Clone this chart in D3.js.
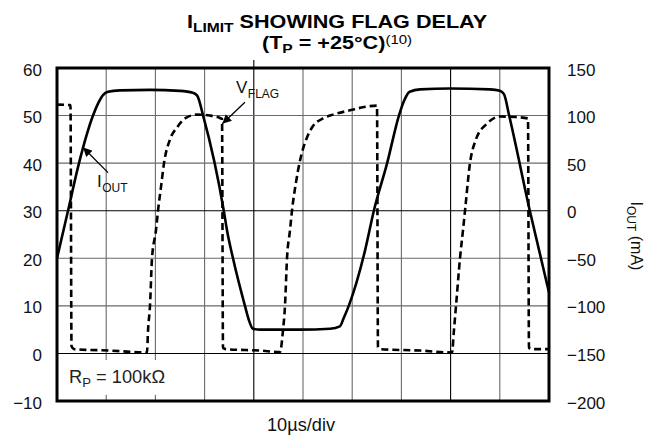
<!DOCTYPE html>
<html><head><meta charset="utf-8">
<script src="https://cdn.jsdelivr.net/npm/d3@7"></script>
<style>body{margin:0;background:#fff}svg{display:block}text{font-family:"Liberation Sans",Arial,sans-serif}</style>
</head><body>
<svg id="c" width="655" height="439"></svg>
<script>
// ---- data ----
const leftTicks = [-10, 0, 10, 20, 30, 40, 50, 60];
const rightTicks = [-200, -150, -100, -50, 0, 50, 100, 150];
const divisions = [0,1,2,3,4,5,6,7,8,9,10];
// I_OUT (right axis, mA) vs time in divisions (10us/div)
const ioutT = [0,0.224,0.447,0.732,0.833,0.935,1.037,1.28,1.89,2.5,2.76,2.85,2.97,3.39,3.455,3.577,3.82,3.90,3.98,4.13,4.94,5.55,5.75,5.83,5.93,6.26,6.44,6.71,6.95,7.05,7.17,7.38,7.99,8.80,9.0,9.085,9.19,9.61,10];
const ioutMA = [-50,0,50,100,112.5,121.5,125,126.5,127,126,124,121,100,0,-20.5,-50,-100,-115,-124,-125,-125,-124,-121.5,-112.5,-100,-42,0,50,100,115,125,127.5,128.5,127.5,126,122.5,100,0,-86];
// V_FLAG (left axis) vs time in divisions
const vflagT = [0,0.274,0.295,0.346,1.077,1.829,1.850,1.890,1.931,2.012,2.053,2.114,2.175,2.297,2.439,2.602,2.846,3.110,3.313,3.354,3.374,3.435,4.126,4.533,4.593,4.634,4.675,4.736,4.776,4.858,4.939,5.000,5.081,5.203,5.407,5.610,5.955,6.301,6.504,6.524,6.585,7.378,8.028,8.069,8.110,8.191,8.252,8.293,8.394,8.516,8.740,9.004,9.309,9.573,9.593,9.654,10];
const vflagV = [52.3,52.2,1.5,0.9,0.6,0.2,4.8,10,20,25.9,30,35,40,45,47.5,49.4,50.2,50.0,49.5,49.3,1.2,0.9,0.6,0.3,4.8,10,20,25.9,30,36,40.5,43,45.4,47.8,49.4,50.2,51.1,51.9,52.1,1.3,0.9,0.6,0.2,5,10,20,25.9,30,40,45,48.3,49.8,49.7,49.4,1.2,0.9,0.9];
const darkV = [0, 30];      // darker horizontal grid lines (left units)
const darkDiv = [4, 8];     // darker vertical grid lines

// ---- layout ----
const svg = d3.select("#c");
const L = 57, R = 549, T = 68, B = 401;
const x = d3.scaleLinear().domain([0, 10]).range([L, R]);
const yL = d3.scaleLinear().domain([-10, 60]).range([B, T]);
const yR = d3.scaleLinear().domain([-200, 150]).range([B, T]);

// grid
const g = svg.append("g");
g.selectAll(".vg").data(divisions.slice(1, -1)).join("line")
  .attr("x1", d => x(d)).attr("x2", d => x(d)).attr("y1", T).attr("y2", B)
  .attr("stroke", d => darkDiv.includes(d) ? "#000" : "#6a6a6a").attr("stroke-width", 1.1);
g.selectAll(".hg").data(leftTicks.slice(1, -1)).join("line")
  .attr("x1", L).attr("x2", R).attr("y1", d => yL(d)).attr("y2", d => yL(d))
  .attr("stroke", d => darkV.includes(d) ? "#000" : "#6a6a6a").attr("stroke-width", 1.1);
// small trigger tick above frame
g.append("line").attr("x1", x(4)).attr("x2", x(4)).attr("y1", T - 8).attr("y2", T).attr("stroke", "#000").attr("stroke-width", 1.1);

// R_P label box (covers grid)
const rpg = svg.append("g");
rpg.append("rect").attr("x", L + 1).attr("y", yL(-1.4)).attr("width", 122).attr("height", yL(-8.7) - yL(-1.4)).attr("fill", "#fff");
const rp = rpg.append("text").attr("x", x(0.245)).attr("y", yL(-6.2)).attr("font-size", 18).attr("fill", "#222")
  .attr("textLength", 96).attr("lengthAdjust", "spacingAndGlyphs");
rp.append("tspan").text("R");
rp.append("tspan").attr("font-size", 13).attr("dy", 4).text("P");
rp.append("tspan").attr("dy", -4).text(" = 100kΩ");

// series
const lineI = d3.line().x(d => x(d[0])).y(d => yR(d[1])).curve(d3.curveMonotoneX);
const lineV = d3.line().x(d => x(d[0])).y(d => yL(d[1])).curve(d3.curveMonotoneX);
svg.append("path").datum(d3.zip(vflagT, vflagV)).attr("d", lineV)
  .attr("fill", "none").attr("stroke", "#000").attr("stroke-width", 2.6).attr("stroke-dasharray", "7,4");
svg.append("path").datum(d3.zip(ioutT, ioutMA)).attr("d", lineI)
  .attr("fill", "none").attr("stroke", "#000").attr("stroke-width", 2.6);

// frame
svg.append("rect").attr("x", L).attr("y", T).attr("width", R - L).attr("height", B - T)
  .attr("fill", "none").attr("stroke", "#000").attr("stroke-width", 3);

// axes
const fmt = d => d < 0 ? "\u2212" + Math.abs(d) : d;
const axL = svg.append("g").attr("transform", `translate(${L},0)`)
  .call(d3.axisLeft(yL).tickValues(leftTicks).tickSize(0).tickPadding(15).tickFormat(fmt));
const axR = svg.append("g").attr("transform", `translate(${R},0)`)
  .call(d3.axisRight(yR).tickValues(rightTicks).tickSize(0).tickPadding(18).tickFormat(fmt));
[axL, axR].forEach(a => {
  a.select(".domain").remove();
  a.selectAll("text").attr("font-size", 17).attr("font-family", "Liberation Sans, Arial, sans-serif").attr("fill", "#111").attr("dy", "0.42em");
});

// right axis title
const rt = svg.append("text").attr("transform", "translate(631,236) rotate(90)")
  .attr("text-anchor", "middle").attr("font-size", 16).attr("fill", "#111");
rt.append("tspan").text("I");
rt.append("tspan").attr("font-size", 12).attr("dy", 4).text("OUT");
rt.append("tspan").attr("dy", -4).text(" (mA)");

// x label
svg.append("text").attr("x", 301).attr("y", 431).attr("text-anchor", "middle").attr("font-size", 18).attr("fill", "#111")
  .attr("textLength", 68).attr("lengthAdjust", "spacingAndGlyphs").text("10µs/div");

// title (horizontally stretched like the reference lettering)
const t1 = svg.append("text").attr("transform", "translate(337,28) scale(1.2,1)").attr("text-anchor", "middle")
  .attr("font-size", 18).attr("font-weight", "bold").attr("fill", "#000");
t1.append("tspan").text("I");
t1.append("tspan").attr("font-size", 13).attr("dy", 4).text("LIMIT");
t1.append("tspan").attr("dy", -4).text(" SHOWING FLAG DELAY");
const t2 = svg.append("text").attr("transform", "translate(337,49) scale(1.2,1)").attr("text-anchor", "middle")
  .attr("font-size", 18).attr("font-weight", "bold").attr("fill", "#000");
t2.append("tspan").text("(T");
t2.append("tspan").attr("font-size", 13).attr("dy", 4).text("P");
t2.append("tspan").attr("dy", -4).text(" = +25°C)");
t2.append("tspan").attr("font-size", 12.5).attr("font-weight", "normal").attr("dy", -5).text("(10)");

// annotations (data coordinates)
svg.append("defs").append("marker").attr("id", "ah").attr("viewBox", "0 0 10 10")
  .attr("refX", 10).attr("refY", 5).attr("markerWidth", 9).attr("markerHeight", 9)
  .attr("markerUnits", "userSpaceOnUse").attr("orient", "auto")
  .append("path").attr("d", "M0,0 L10,5 L0,10 z").attr("fill", "#000");
const annotations = [
  {label: "V", sub: "FLAG", lt: 3.638, lv: 54.7, t0: 3.82, v0: 52.8, t1: 3.36, v1: 48.3},
  {label: "I", sub: "OUT", lt: 0.813, lv: 34.9, t0: 1.037, v0: 38.0, t1: 0.53, v1: 43.3}
];
annotations.forEach(a => {
  svg.append("line").attr("x1", x(a.t0)).attr("y1", yL(a.v0)).attr("x2", x(a.t1)).attr("y2", yL(a.v1))
    .attr("stroke", "#000").attr("stroke-width", 1.3).attr("marker-end", "url(#ah)");
  const tx = svg.append("text").attr("x", x(a.lt)).attr("y", yL(a.lv)).attr("font-size", 17).attr("fill", "#111");
  tx.append("tspan").text(a.label);
  tx.append("tspan").attr("font-size", 12).attr("dx", 0.5).attr("dy", 5).text(a.sub);
});
</script>
</body></html>
